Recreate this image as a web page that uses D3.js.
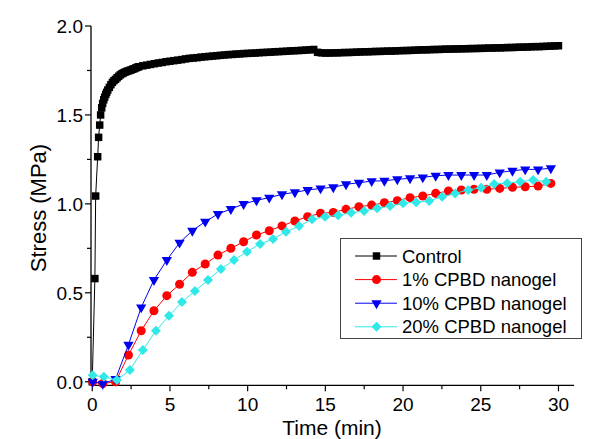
<!DOCTYPE html>
<html>
<head>
<meta charset="utf-8">
<script src="https://cdn.jsdelivr.net/npm/d3@7"></script>
<style>
  html, body { margin: 0; padding: 0; background: #fff; }
  svg { display: block; }
  text { font-family: "Liberation Sans", Arial, sans-serif; fill: #000; }
</style>
</head>
<body>
<svg id="chart" width="600" height="439"></svg>
<script>
// ---------- data ----------
const seriesNames = ["Control", "1% CPBD nanogel", "10% CPBD nanogel", "20% CPBD nanogel"];
const xTicks = [0, 5, 10, 15, 20, 25, 30];
const yTicks = [0.0, 0.5, 1.0, 1.5, 2.0];

const controlTime = [0, 0.17, 0.22, 0.35, 0.41, 0.48, 0.54, 0.61, 0.67, 0.74, 0.8, 0.87, 0.93, 1.0,
  1.1, 1.2, 1.3, 1.4, 1.5, 1.6, 1.7, 1.8, 1.9, 2.0, 2.1, 2.2, 2.3, 2.4, 2.5, 2.6, 2.7, 2.8, 2.9, 3.0,
  3.25, 3.5, 3.75, 4.0, 4.25, 4.5, 4.75, 5.0,
  5.25, 5.5, 5.75, 6.0, 6.25, 6.5, 6.75, 7.0, 7.25, 7.5, 7.75, 8.0, 8.25, 8.5, 8.75, 9.0,
  9.25, 9.5, 9.75, 10.0, 10.25, 10.5, 10.75, 11.0, 11.25, 11.5, 11.75, 12.0, 12.25, 12.5, 12.75, 13.0,
  13.25, 13.5, 13.75, 14.0, 14.25, 14.5, 14.75, 15.0, 15.25, 15.5, 15.75, 16.0, 16.25, 16.5, 16.75, 17.0,
  17.25, 17.5, 17.75, 18.0, 18.25, 18.5, 18.75, 19.0, 19.25, 19.5, 19.75, 20.0, 20.25, 20.5, 20.75, 21.0,
  21.25, 21.5, 21.75, 22.0, 22.25, 22.5, 22.75, 23.0, 23.25, 23.5, 23.75, 24.0, 24.25, 24.5, 24.75, 25.0,
  25.25, 25.5, 25.75, 26.0, 26.25, 26.5, 26.75, 27.0, 27.25, 27.5, 27.75, 28.0, 28.25, 28.5, 28.75, 29.0,
  29.25, 29.5, 29.75, 30.0];
const controlStress = [0, 0.58, 1.044, 1.265, 1.374, 1.443, 1.50, 1.54, 1.565, 1.585, 1.60, 1.615, 1.627, 1.64,
  1.655, 1.670, 1.683, 1.693, 1.700, 1.709, 1.717, 1.725, 1.731, 1.736, 1.740, 1.744, 1.747, 1.750, 1.753, 1.757,
  1.760, 1.764, 1.768, 1.771,
  1.776, 1.780, 1.784, 1.788, 1.792, 1.795, 1.799, 1.802,
  1.805, 1.808, 1.811, 1.815, 1.818, 1.820, 1.822, 1.825, 1.827, 1.829, 1.831, 1.833, 1.835, 1.837, 1.839, 1.840,
  1.842, 1.843, 1.845, 1.846, 1.847, 1.848, 1.850, 1.851, 1.852, 1.853, 1.855, 1.856, 1.857, 1.858, 1.860, 1.861,
  1.862, 1.863, 1.865, 1.866, 1.868, 1.852, 1.849, 1.848, 1.848, 1.849, 1.849, 1.850, 1.851, 1.851, 1.852, 1.853,
  1.854, 1.855, 1.855, 1.856, 1.857, 1.857, 1.858, 1.859, 1.859, 1.860, 1.861, 1.862, 1.862, 1.863, 1.864, 1.865,
  1.866, 1.866, 1.867, 1.868, 1.868, 1.869, 1.870, 1.870, 1.871, 1.871, 1.872, 1.872, 1.873, 1.873, 1.874, 1.874,
  1.875, 1.876, 1.876, 1.877, 1.877, 1.878, 1.879, 1.879, 1.880, 1.881, 1.881, 1.882, 1.883, 1.884, 1.884, 1.885,
  1.886, 1.887, 1.888, 1.889];

const gelTime = [0.03, 0.68, 1.5, 2.33, 3.15, 3.97, 4.8, 5.62, 6.44, 7.27, 8.09, 8.92, 9.74, 10.57, 11.39, 12.21,
  13.04, 13.86, 14.69, 15.51, 16.33, 17.16, 17.98, 18.8, 19.63, 20.45, 21.27, 22.1, 22.92, 23.75, 24.57, 25.39,
  26.22, 27.04, 27.86, 28.69, 29.51];
const gel1Stress = [0.0, -0.01, 0.0, 0.15, 0.287, 0.399, 0.484, 0.548, 0.615, 0.662, 0.712, 0.75, 0.787, 0.825,
  0.849, 0.876, 0.904, 0.928, 0.947, 0.952, 0.969, 0.984, 0.993, 1.006, 1.018, 1.035, 1.044, 1.059, 1.072, 1.078,
  1.082, 1.082, 1.087, 1.093, 1.096, 1.100, 1.115];
const gel10Stress = [0.0, -0.012, 0.015, 0.208, 0.418, 0.572, 0.684, 0.782, 0.849, 0.900, 0.943, 0.971, 0.999, 1.020,
  1.035, 1.054, 1.065, 1.078, 1.087, 1.093, 1.110, 1.119, 1.128, 1.130, 1.138, 1.144, 1.149, 1.158, 1.162, 1.162,
  1.162, 1.162, 1.177, 1.186, 1.194, 1.194, 1.200];
const gel20Time = [0.03, 0.75, 1.59, 2.42, 3.26, 4.10, 4.94, 5.77, 6.61, 7.45, 8.28, 9.12, 9.96, 10.8, 11.63, 12.47,
  13.31, 14.14, 14.98, 15.82, 16.66, 17.49, 18.33, 19.17, 20.0, 20.84, 21.68, 22.51, 23.35, 24.19, 25.02, 25.86,
  26.7, 27.54, 28.37, 29.21];
const gel20Stress = [0.036, 0.028, 0.01, 0.066, 0.178, 0.287, 0.371, 0.448, 0.51, 0.572, 0.634, 0.684, 0.731, 0.775,
  0.802, 0.843, 0.875, 0.913, 0.928, 0.936, 0.95, 0.96, 0.975, 0.988, 1.003, 1.009, 1.016, 1.04, 1.059, 1.078,
  1.091, 1.112, 1.116, 1.125, 1.134, 1.125];

// ---------- layout ----------
const svg = d3.select("#chart");
const x = d3.scaleLinear().domain([-0.08, 31]).range([91, 574]);
const y = d3.scaleLinear().domain([-0.02, 2.0]).range([385.3, 26]);

const series = [
  { name: seriesNames[0], t: controlTime, v: controlStress, color: "#000000", symbol: d3.symbolSquare, size: 56, rotate: 0 },
  { name: seriesNames[1], t: gelTime, v: gel1Stress, color: "#ff0000", symbol: d3.symbolCircle, size: 64, rotate: 0 },
  { name: seriesNames[2], t: gelTime, v: gel10Stress, color: "#0000f0", symbol: d3.symbolTriangle, size: 46, rotate: 180 },
  { name: seriesNames[3], t: gel20Time, v: gel20Stress, color: "#30e8e8", symbol: d3.symbolSquare, size: 50, rotate: 45 }
];

// ---------- axes ----------
const axisG = svg.append("g");
const xMinor = [2.5, 7.5, 12.5, 17.5, 22.5, 27.5];
const yMinor = [0.25, 0.75, 1.25, 1.75];

// x axis
const xAxis = axisG.append("g").attr("transform", "translate(0,385.3)");
xAxis.append("line").attr("x1", 91).attr("x2", 574).attr("stroke", "#000").attr("stroke-width", 1.3);
xAxis.selectAll(".maj").data(xTicks).join("line")
  .attr("x1", d => x(d)).attr("x2", d => x(d)).attr("y1", 0).attr("y2", 6)
  .attr("stroke", "#000").attr("stroke-width", 1.2);
xAxis.selectAll(".min").data(xMinor).join("line")
  .attr("x1", d => x(d)).attr("x2", d => x(d)).attr("y1", 0).attr("y2", 4)
  .attr("stroke", "#000").attr("stroke-width", 1.2);
xAxis.selectAll("text").data(xTicks).join("text")
  .attr("x", d => x(d)).attr("y", 25.5).attr("text-anchor", "middle")
  .attr("font-size", 19).text(d => d);

// y axis
const yAxis = axisG.append("g").attr("transform", "translate(91,0)");
yAxis.append("line").attr("y1", 26).attr("y2", 385.3).attr("stroke", "#000").attr("stroke-width", 1.3);
yAxis.selectAll(".maj").data(yTicks).join("line")
  .attr("y1", d => y(d)).attr("y2", d => y(d)).attr("x1", 0).attr("x2", -6)
  .attr("stroke", "#000").attr("stroke-width", 1.2);
yAxis.selectAll(".min").data(yMinor).join("line")
  .attr("y1", d => y(d)).attr("y2", d => y(d)).attr("x1", 0).attr("x2", -4)
  .attr("stroke", "#000").attr("stroke-width", 1.2);
yAxis.selectAll("text").data(yTicks).join("text")
  .attr("x", -8).attr("y", d => y(d)).attr("dy", "0.36em").attr("text-anchor", "end")
  .attr("font-size", 19).text(d => d3.format(".1f")(d));

// axis titles
svg.append("text").attr("x", 332).attr("y", 434.5).attr("text-anchor", "middle")
  .attr("font-size", 21).text("Time (min)");
svg.append("text").attr("transform", "translate(46,208) rotate(-90)").attr("text-anchor", "middle")
  .attr("font-size", 22).text("Stress (MPa)");

// ---------- series ----------
const line = d3.line().x(d => x(d[0])).y(d => y(d[1]));
const plotG = svg.append("g");
series.forEach(s => {
  const pts = s.t.map((t, i) => [t, s.v[i]]);
  const g = plotG.append("g");
  g.append("path").attr("d", line(pts)).attr("fill", "none").attr("stroke", s.color).attr("stroke-width", 1);
  const sym = d3.symbol().type(s.symbol).size(s.size);
  g.selectAll("path.m").data(pts).join("path").attr("class", "m")
    .attr("d", sym)
    .attr("transform", d => `translate(${x(d[0])},${y(d[1])}) rotate(${s.rotate})`)
    .attr("fill", s.color);
});

// ---------- legend ----------
const leg = svg.append("g");
leg.append("rect").attr("x", 340.5).attr("y", 238.5).attr("width", 241).attr("height", 100)
  .attr("fill", "#fff").attr("stroke", "#444").attr("stroke-width", 1);
const rowY = [256, 279.6, 303.2, 326.8];
series.forEach((s, i) => {
  const g = leg.append("g").attr("transform", `translate(0,${rowY[i]})`);
  g.append("line").attr("x1", 355).attr("x2", 397).attr("stroke", s.color).attr("stroke-width", 1);
  g.append("path").attr("d", d3.symbol().type(s.symbol).size(s.size)())
    .attr("transform", `translate(376.5,0) rotate(${s.rotate})`).attr("fill", s.color);
  g.append("text").attr("x", 402).attr("y", 0).attr("dy", "0.36em").attr("font-size", 18.5).text(s.name);
});
</script>
</body>
</html>
